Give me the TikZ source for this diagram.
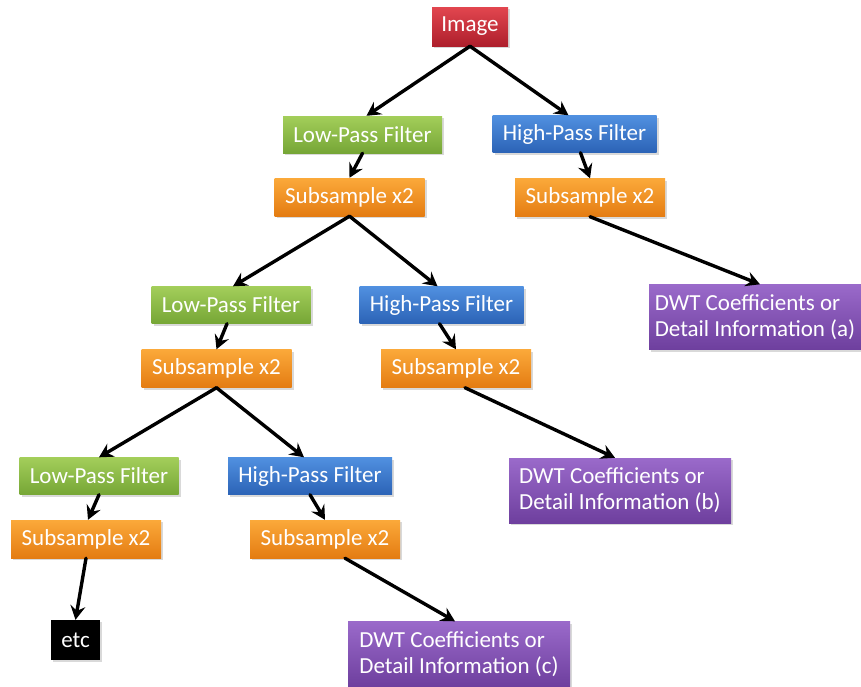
\documentclass[tikz,border=0pt]{standalone}
\usepackage{fontspec}
\setmainfont{Carlito}
\usetikzlibrary{arrows.meta,shadows}
\definecolor{redtop}{HTML}{E2464F}
\definecolor{redbot}{HTML}{AE1F2C}
\definecolor{lowtop}{HTML}{A3CE5A}
\definecolor{lowbot}{HTML}{76A636}
\definecolor{hightop}{HTML}{5090E0}
\definecolor{highbot}{HTML}{2C63B6}
\definecolor{subtop}{HTML}{FBA93A}
\definecolor{subbot}{HTML}{E47C12}
\definecolor{dwttop}{HTML}{9A6ACA}
\definecolor{dwtbot}{HTML}{6E3F9E}
\begin{document}
\begin{tikzpicture}[x=1pt,y=-1pt,line cap=round,line join=round,
	box/.style={text=white,inner sep=0pt,font=\fontsize{23}{26}\selectfont,
		drop shadow={opacity=0.3,shadow xshift=2pt,shadow yshift=-2pt}},
	imgbox/.style={box,minimum width=76pt,minimum height=39pt,top color=redtop,bottom color=redbot},
	lowbox/.style={box,minimum width=159pt,minimum height=37pt,top color=lowtop,bottom color=lowbot},
	highbox/.style={box,minimum width=164pt,minimum height=37pt,top color=hightop,bottom color=highbot},
	subbox/.style={box,minimum width=150pt,minimum height=38pt,top color=subtop,bottom color=subbot},
	dwtbox/.style={box,minimum width=222pt,minimum height=65pt,align=left,top color=dwttop,bottom color=dwtbot},
	etcbox/.style={box,minimum width=49pt,minimum height=40pt,fill=black},
	link/.style={-{Stealth[length=14pt,width=15pt,inset=5pt]},line width=3.4pt}]
	\useasboundingbox (0,0) rectangle (861,686);
	% level 1
	\node[imgbox] (img) at (470,26.5) {Image};
	\node[lowbox] (lp1) at (362.5,134.5) {Low-Pass Filter};
	\node[highbox] (hp1) at (574.5,134) {High-Pass Filter};
	\node[subbox] (sub1) at (349.5,197) {Subsample x2};
	\node[subbox] (subh1) at (590,197.5) {Subsample x2};
	\node[dwtbox,minimum width=212pt] (dwta) at (755,317) {DWT Coefficients or\\Detail Information (a)};
	% level 2
	\node[lowbox] (lp2) at (231,305) {Low-Pass Filter};
	\node[highbox] (hp2) at (441.5,305) {High-Pass Filter};
	\node[subbox] (sub2) at (216.5,368.5) {Subsample x2};
	\node[subbox] (subh2) at (456,368.5) {Subsample x2};
	\node[dwtbox] (dwtb) at (620,490.5) {DWT Coefficients or\\Detail Information (b)};
	% level 3
	\node[lowbox] (lp3) at (99,476) {Low-Pass Filter};
	\node[highbox] (hp3) at (310,476) {High-Pass Filter};
	\node[subbox] (sub3) at (86,539) {Subsample x2};
	\node[subbox] (subh3) at (325,539) {Subsample x2};
	\node[etcbox] (etc) at (75.5,640) {etc};
	\node[dwtbox] (dwtc) at (459,654) {DWT Coefficients or\\Detail Information (c)};
	% connectors
	\draw[link] (img.south) -- ([xshift=4pt]lp1.north);
	\draw[link] (img.south) -- ([xshift=-6pt]hp1.north);
	\draw[link] (lp1.south) -- (sub1.north);
	\draw[link] ([xshift=6pt]hp1.south) -- (subh1.north);
	\draw[link] (subh1.south) -- ([xshift=5pt]dwta.north);
	\draw[link] (sub1.south) -- ([xshift=2pt]lp2.north);
	\draw[link] (sub1.south) -- ([xshift=-4pt]hp2.north);
	\draw[link] ([xshift=-4pt]lp2.south) -- (sub2.north);
	\draw[link] ([xshift=-2pt]hp2.south) -- (subh2.north);
	\draw[link] (sub2.south) -- (lp3.north);
	\draw[link] (sub2.south) -- ([xshift=-6pt]hp3.north);
	\draw[link] ([xshift=9pt]subh2.south) -- ([xshift=-5pt]dwtb.north);
	\draw[link] (lp3.south) -- ([xshift=2pt]sub3.north);
	\draw[link] (hp3.south) -- (subh3.north);
	\draw[link] (sub3.south) -- (etc.north);
	\draw[link] ([xshift=20pt]subh3.south) -- ([xshift=-4pt]dwtc.north);
\end{tikzpicture}
\end{document}
